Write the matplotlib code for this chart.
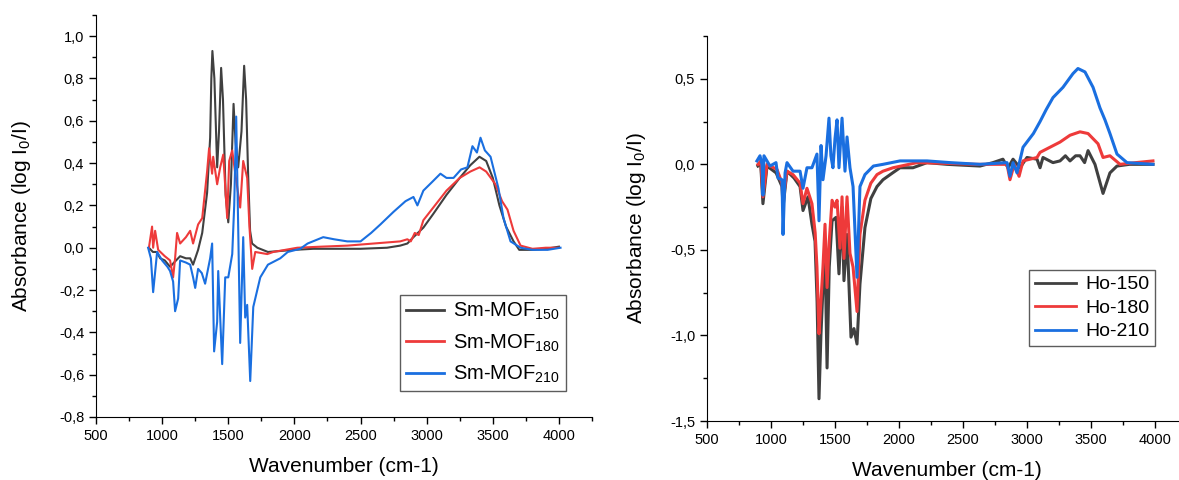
import numpy as np
import matplotlib
matplotlib.use("Agg")
import matplotlib.pyplot as plt
from matplotlib.ticker import MultipleLocator, FuncFormatter

plt.rcParams['font.family'] = ['Liberation Sans', 'DejaVu Sans']
plt.rcParams['mathtext.fontset'] = 'custom'
plt.rcParams['mathtext.rm'] = 'Liberation Sans'
plt.rcParams['axes.unicode_minus'] = False

# (wavenumber, absorbance)
sm150 = np.array([
    (900, 0.0), (930, -0.02), (960, -0.02), (985, -0.05), (1020, -0.06), (1060, -0.09),
    (1090, -0.07), (1136, -0.04), (1180, -0.05), (1212, -0.05), (1234, -0.08), (1272, -0.01),
    (1303, 0.07), (1340, 0.26), (1363, 0.52), (1372, 0.80), (1380, 0.93), (1395, 0.80),
    (1416, 0.38), (1430, 0.55), (1446, 0.85), (1460, 0.70), (1480, 0.25), (1500, 0.12),
    (1520, 0.30), (1540, 0.68), (1555, 0.50), (1575, 0.38), (1600, 0.55), (1620, 0.86),
    (1635, 0.70), (1650, 0.35), (1665, 0.08), (1680, 0.02), (1720, 0.0), (1800, -0.02),
    (1900, -0.015), (2000, -0.01), (2143, -0.005), (2300, -0.005), (2500, -0.005), (2700, 0.0),
    (2800, 0.01), (2854, 0.02), (2900, 0.05), (2975, 0.095), (3050, 0.16), (3150, 0.25),
    (3250, 0.33), (3330, 0.39), (3399, 0.43), (3450, 0.41), (3500, 0.33), (3550, 0.20),
    (3600, 0.10), (3657, 0.03), (3700, -0.01), (3800, -0.01), (3900, -0.005), (4000, 0.005),
])
sm180 = np.array([
    (900, 0.0), (924, 0.10), (932, 0.0), (947, 0.08), (970, -0.01), (1020, -0.04),
    (1060, -0.06), (1083, -0.14), (1098, -0.05), (1113, 0.07), (1136, 0.02), (1180, 0.05),
    (1212, 0.08), (1234, 0.02), (1272, 0.11), (1303, 0.14), (1340, 0.36), (1355, 0.47),
    (1378, 0.35), (1386, 0.43), (1416, 0.30), (1439, 0.38), (1462, 0.44), (1492, 0.14),
    (1507, 0.41), (1530, 0.46), (1553, 0.35), (1590, 0.19), (1613, 0.41), (1643, 0.33),
    (1660, 0.10), (1681, -0.10), (1704, -0.02), (1795, -0.03), (1840, -0.02), (2022, 0.0),
    (2200, 0.005), (2400, 0.01), (2600, 0.02), (2800, 0.03), (2854, 0.04), (2880, 0.03),
    (2910, 0.07), (2940, 0.06), (2975, 0.13), (3050, 0.19), (3150, 0.27), (3250, 0.33),
    (3330, 0.36), (3400, 0.38), (3450, 0.36), (3520, 0.30), (3570, 0.22), (3611, 0.18),
    (3657, 0.08), (3710, 0.01), (3800, -0.005), (3900, 0.0), (4000, 0.0),
])
sm210 = np.array([
    (894, 0.0), (915, -0.05), (932, -0.21), (962, -0.02), (1000, -0.06), (1040, -0.09),
    (1060, -0.11), (1083, -0.16), (1098, -0.30), (1121, -0.24), (1136, -0.06), (1180, -0.07),
    (1212, -0.08), (1234, -0.14), (1250, -0.19), (1272, -0.10), (1300, -0.12), (1325, -0.17),
    (1363, -0.05), (1378, 0.02), (1393, -0.49), (1416, -0.35), (1424, -0.11), (1454, -0.55),
    (1477, -0.14), (1500, -0.14), (1530, -0.03), (1545, 0.20), (1560, 0.62), (1575, 0.10),
    (1590, -0.45), (1613, 0.05), (1628, -0.33), (1643, -0.27), (1666, -0.63), (1689, -0.28),
    (1742, -0.14), (1800, -0.08), (1893, -0.05), (1950, -0.02), (2044, -0.005), (2100, 0.02),
    (2218, 0.05), (2300, 0.04), (2400, 0.03), (2500, 0.03), (2580, 0.07), (2650, 0.11),
    (2750, 0.17), (2840, 0.22), (2900, 0.24), (2930, 0.20), (2975, 0.27), (3040, 0.31),
    (3104, 0.35), (3150, 0.33), (3203, 0.33), (3260, 0.37), (3308, 0.38), (3346, 0.48),
    (3380, 0.45), (3407, 0.52), (3440, 0.46), (3483, 0.43), (3543, 0.28), (3581, 0.14),
    (3634, 0.03), (3710, 0.0), (3800, -0.01), (3914, -0.01), (4012, 0.0),
])

ho150 = np.array([
    (898, -0.01), (920, 0.0), (937, -0.23), (969, -0.01), (1040, -0.05), (1086, -0.13),
    (1094, -0.25), (1125, -0.04), (1180, -0.08), (1227, -0.13), (1250, -0.27), (1289, -0.19),
    (1320, -0.35), (1344, -0.45), (1360, -0.80), (1375, -1.37), (1390, -1.00), (1406, -0.72),
    (1422, -0.50), (1438, -1.19), (1455, -0.60), (1477, -0.33), (1508, -0.31), (1531, -0.64),
    (1555, -0.25), (1570, -0.68), (1594, -0.41), (1625, -1.01), (1648, -0.96), (1672, -1.05),
    (1695, -0.70), (1734, -0.37), (1780, -0.20), (1828, -0.13), (1875, -0.09), (1950, -0.05),
    (2008, -0.02), (2109, -0.02), (2219, 0.01), (2375, 0.0), (2500, -0.005), (2633, -0.01),
    (2734, 0.01), (2812, 0.03), (2852, -0.02), (2891, 0.03), (2945, -0.02), (3000, 0.04),
    (3078, 0.03), (3102, -0.02), (3125, 0.04), (3203, 0.01), (3258, 0.02), (3300, 0.05),
    (3336, 0.02), (3380, 0.05), (3414, 0.05), (3450, 0.01), (3477, 0.08), (3531, 0.0),
    (3594, -0.17), (3648, -0.05), (3703, -0.01), (3800, 0.0), (3984, 0.0),
])
ho180 = np.array([
    (898, 0.0), (920, 0.02), (937, -0.19), (969, 0.0), (1047, -0.03), (1086, -0.11),
    (1094, -0.21), (1125, -0.04), (1172, -0.06), (1227, -0.11), (1250, -0.23), (1281, -0.14),
    (1320, -0.23), (1345, -0.40), (1359, -0.60), (1375, -0.99), (1390, -0.80), (1406, -0.60),
    (1422, -0.35), (1438, -0.72), (1455, -0.45), (1477, -0.21), (1500, -0.25), (1516, -0.21),
    (1539, -0.49), (1555, -0.19), (1570, -0.55), (1594, -0.19), (1617, -0.52), (1641, -0.60),
    (1672, -0.86), (1695, -0.41), (1734, -0.21), (1780, -0.11), (1828, -0.06), (1875, -0.04),
    (1953, -0.02), (2141, 0.01), (2400, 0.005), (2600, 0.0), (2844, 0.0), (2867, -0.09),
    (2900, 0.0), (2938, -0.07), (2969, 0.02), (3078, 0.04), (3102, 0.07), (3180, 0.10),
    (3258, 0.13), (3336, 0.17), (3414, 0.19), (3477, 0.18), (3555, 0.12), (3594, 0.04),
    (3648, 0.05), (3727, 0.0), (3850, 0.01), (3984, 0.02),
])
ho210 = np.array([
    (890, 0.02), (914, 0.05), (930, 0.0), (937, -0.18), (945, 0.05), (992, -0.01),
    (1039, 0.01), (1055, -0.08), (1086, -0.09), (1094, -0.41), (1110, -0.05), (1125, 0.01),
    (1172, -0.04), (1227, -0.04), (1250, -0.14), (1281, -0.02), (1320, -0.02), (1359, 0.06),
    (1375, -0.33), (1391, 0.11), (1406, -0.09), (1430, 0.05), (1453, 0.27), (1468, 0.05),
    (1484, -0.02), (1500, 0.15), (1516, 0.26), (1531, -0.02), (1555, 0.27), (1578, -0.04),
    (1594, 0.16), (1617, -0.02), (1641, -0.13), (1672, -0.66), (1695, -0.13), (1734, -0.06),
    (1800, -0.01), (1875, 0.0), (2008, 0.02), (2219, 0.02), (2400, 0.01), (2633, 0.0),
    (2844, 0.01), (2867, -0.07), (2891, 0.01), (2922, -0.05), (2969, 0.10), (3050, 0.18),
    (3102, 0.25), (3150, 0.32), (3203, 0.39), (3281, 0.45), (3359, 0.53), (3398, 0.56),
    (3453, 0.54), (3516, 0.45), (3570, 0.33), (3609, 0.26), (3648, 0.18), (3703, 0.06),
    (3781, 0.01), (3984, 0.0),
])

sm_labels = ['Sm-MOF$\\mathregular{_{150}}$', 'Sm-MOF$\\mathregular{_{180}}$', 'Sm-MOF$\\mathregular{_{210}}$']
ho_labels = ['Ho-150', 'Ho-180', 'Ho-210']
colors = ['#404040', '#ee3a3a', '#1a6fe0']

W, H = 1179, 480
fig = plt.figure(figsize=(W / 100, H / 100), dpi=100)
ax1 = fig.add_axes([96 / W, 1 - 417 / H, (592 - 96) / W, (417 - 15) / H])
ax2 = fig.add_axes([707 / W, 1 - 421 / H, (1187 - 707) / W, (421 - 36) / H])

comma = FuncFormatter(lambda v, p: ('%.1f' % v).replace('.', ','))

for ax, series, labels, lw, ypad in [(ax1, [sm150, sm180, sm210], sm_labels, 1.5, 19),
                                     (ax2, [ho150, ho180, ho210], ho_labels, 2.2, 16)]:
    for d, c, lab in zip(series, colors, labels):
        ax.plot(d[:, 0], d[:, 1], color=c, lw=lw, label=lab)
    ax.set_xlim(500, 4250)
    ax.xaxis.set_major_locator(MultipleLocator(500))
    ax.xaxis.set_minor_locator(MultipleLocator(250))
    ax.yaxis.set_major_formatter(comma)
    ax.spines['top'].set_visible(False)
    ax.spines['right'].set_visible(False)
    ax.tick_params(which='major', direction='out', length=5, width=1, labelsize=10.5)
    ax.tick_params(which='minor', direction='out', length=3, width=1)
    ax.set_xlabel('Wavenumber (cm-1)', fontsize=15, labelpad=10)
    ax.set_ylabel('Absorbance (log I$\\mathregular{_0}$/I)', fontsize=15, labelpad=ypad)

ax1.set_ylim(-0.8, 1.1)
ax1.yaxis.set_major_locator(MultipleLocator(0.2))
ax1.yaxis.set_minor_locator(MultipleLocator(0.1))
ax2.set_ylim(-1.5, 0.75)
ax2.yaxis.set_major_locator(MultipleLocator(0.5))
ax2.yaxis.set_minor_locator(MultipleLocator(0.25))

leg1 = ax1.legend(loc='upper left', bbox_to_anchor=(400 / W, 1 - 295 / H), bbox_transform=fig.transFigure,
                  fontsize=14.5, frameon=True, fancybox=False, edgecolor='#333333', borderaxespad=0,
                  handlelength=1.9, borderpad=0.3, labelspacing=0.5, handletextpad=0.45)
leg2 = ax2.legend(loc='upper left', bbox_to_anchor=(1029 / W, 1 - 270 / H), bbox_transform=fig.transFigure,
                  fontsize=14, frameon=True, fancybox=False, edgecolor='#333333', borderaxespad=0,
                  handlelength=2.1, borderpad=0.3, labelspacing=0.3, handletextpad=0.5)
for leg in (leg1, leg2):
    leg.get_frame().set_linewidth(1.0)
    for h in leg.get_lines():
        h.set_linewidth(2.0)

fig.savefig('out.png', dpi=100)
